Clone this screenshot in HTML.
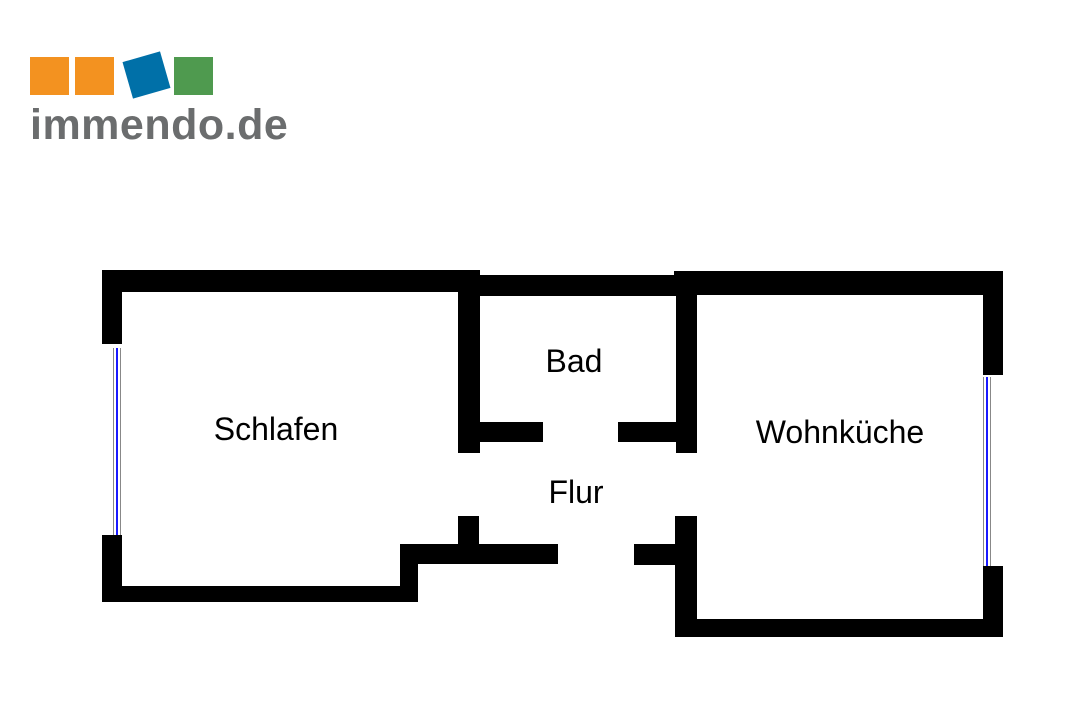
<!DOCTYPE html>
<html><head><meta charset="utf-8"><style>
body{margin:0;width:1080px;height:720px;background:#fff;position:relative;overflow:hidden;font-family:"Liberation Sans",sans-serif}
.w{position:absolute;background:#000}
.sq{position:absolute;width:39px;height:38px}
.t{position:absolute;font-size:32px;color:#000;transform:translateX(-50%);white-space:nowrap}
.win{position:absolute;width:6px;border-left:1px solid #888;border-right:1px solid #888}
.win:after{content:"";position:absolute;left:2px;top:0;bottom:0;width:2px;background:#1a1aff}
</style></head><body>
<div class="sq" style="left:30px;top:57px;background:#f39220"></div>
<div class="sq" style="left:75px;top:57px;background:#f39220"></div>
<div class="sq" style="left:127px;top:56px;background:#0070a8;transform:rotate(-16deg)"></div>
<div class="sq" style="left:174px;top:57px;background:#4f9a4f"></div>
<div style="position:absolute;left:30px;top:101px;font-size:43px;font-weight:bold;color:#6b6d6e;letter-spacing:0.5px">immendo.de</div>

<!-- Schlafen -->
<div class="w" style="left:102px;top:270px;width:378px;height:22px"></div>
<div class="w" style="left:102px;top:270px;width:20px;height:74px"></div>
<div class="w" style="left:102px;top:535px;width:20px;height:67px"></div>
<div class="w" style="left:102px;top:586px;width:316px;height:16px"></div>
<div class="w" style="left:400px;top:544px;width:18px;height:58px"></div>
<div class="w" style="left:400px;top:544px;width:158px;height:20px"></div>
<div class="w" style="left:458px;top:516px;width:21px;height:30px"></div>
<div class="win" style="left:113px;top:348px;height:187px"></div>
<!-- Bad -->
<div class="w" style="left:478px;top:275px;width:198px;height:21px"></div>
<div class="w" style="left:458px;top:270px;width:22px;height:183px"></div>
<div class="w" style="left:479px;top:422px;width:64px;height:20px"></div>
<div class="w" style="left:676px;top:271px;width:21px;height:182px"></div>
<div class="w" style="left:618px;top:422px;width:60px;height:20px"></div>
<!-- Wohnkueche -->
<div class="w" style="left:674px;top:271px;width:329px;height:24px"></div>
<div class="w" style="left:983px;top:271px;width:20px;height:104px"></div>
<div class="w" style="left:983px;top:566px;width:20px;height:71px"></div>
<div class="w" style="left:675px;top:619px;width:328px;height:18px"></div>
<div class="w" style="left:675px;top:516px;width:22px;height:121px"></div>
<div class="w" style="left:634px;top:544px;width:42px;height:21px"></div>
<div class="win" style="left:983px;top:377px;height:189px"></div>

<div class="t" style="left:276px;top:411px">Schlafen</div>
<div class="t" style="left:574px;top:343px">Bad</div>
<div class="t" style="left:576px;top:474px">Flur</div>
<div class="t" style="left:840px;top:414px">Wohnküche</div>
</body></html>
